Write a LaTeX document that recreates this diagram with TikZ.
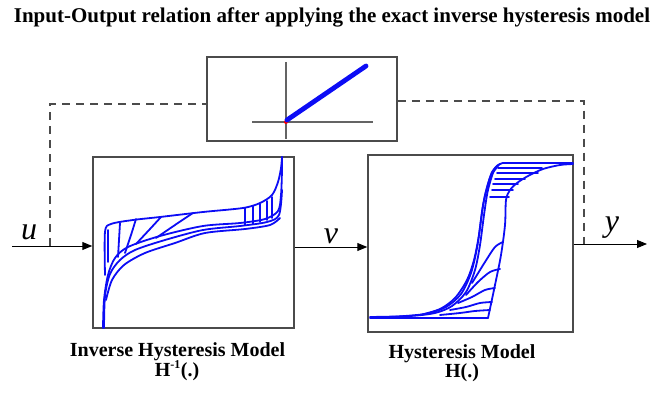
\documentclass[tikz,border=0pt]{standalone}
\usepackage{fontspec}
\setmainfont{Liberation Serif}
\usetikzlibrary{arrows.meta}

\definecolor{loopblue}{RGB}{12,12,245}
\definecolor{framegray}{RGB}{75,75,75}
\definecolor{axisgray}{RGB}{100,100,100}

\begin{document}
\begin{tikzpicture}[x=1pt,y=-1pt,
  blockbox/.style={draw=framegray, line width=1.5pt, inner sep=0pt},
  sig/.style={black, line width=1pt, -{Triangle[length=10pt,width=8pt]}},
  fbline/.style={framegray, line width=1.3pt, dash pattern=on 8pt off 6pt},
  hyst/.style={loopblue, line width=1.8pt, line join=round, line cap=round},
  caption/.style={font=\fontsize{20}{20}\selectfont\bfseries, anchor=base, inner sep=0pt},
  signame/.style={font=\fontsize{32}{32}\selectfont\itshape, inner sep=0pt}]
\useasboundingbox (0,0) rectangle (658,398);

\node[font=\fontsize{21}{21}\selectfont\bfseries, anchor=base, inner sep=0pt] (title) at (332,23)
  {Input-Output relation after applying the exact inverse hysteresis model};

% blocks
\node[blockbox, minimum width=190pt, minimum height=84pt] (fb) at (302,99) {};
\node[blockbox, minimum width=201pt, minimum height=171pt] (inv) at (193.5,242.5) {};
\node[blockbox, minimum width=205pt, minimum height=177pt] (hys) at (470.5,243.5) {};

% overall relation (top block)
\draw[axisgray, line width=2.2pt] (252,122) -- (373,122);
\draw[axisgray, line width=2.2pt] (286,62) -- (286,139);
\fill[red] (286,122) circle (2pt);
\draw[loopblue, line width=4.8pt, line cap=round] (287,120) -- (366,66);

% inverse hysteresis loops
\draw[hyst] plot[smooth] coordinates {(105,275) (105,232) (111,224) (133,220) (160,217) (203,212) (243,208) (260,203) (272,195) (278,182) (281,168) (282,157)};
\draw[hyst] (108,262) -- (108,230);
\draw[hyst] plot[smooth] coordinates {(103,328) (104,300) (108,275) (115,258) (128,247) (160,236) (203,226) (240,223) (265,219) (278,211) (281,195) (282,170) (282,157)};
\draw[hyst] plot[smooth] coordinates {(104,328) (105,296) (110,274) (120,260) (135,250) (165,240) (203,230) (240,226) (267,222) (279,215) (282,190)};
\draw[hyst] plot[smooth] coordinates {(106,300) (112,280) (124,265) (145,253) (175,243) (205,233) (245,229) (270,225) (280,218)};
\draw[hyst] (120,223) -- (118,257);
\draw[hyst] plot[smooth] coordinates {(136,219) (131,235) (125,253)};
\draw[hyst] plot[smooth] coordinates {(161,217) (150,229) (136,244)};
\draw[hyst] plot[smooth] coordinates {(193,213) (175,225) (156,238)};
\foreach \xa/\ylo/\yhi in {245/225/208, 253/224/206, 260/222/204, 267/220/201, 272/218/197}
  \draw[hyst] (\xa,\ylo) -- (\xa,\yhi);

% hysteresis loops
\draw[hyst] (370,318) -- (488,318);
\draw[hyst] plot[smooth] coordinates {(488,318) (495,285) (501,255) (505,225) (506,200) (510,190) (517,183) (528,176) (543,169) (560,165) (573,164)};
\draw[hyst] (503,163) -- (573,163);
\draw[hyst] plot[smooth] coordinates {(503,163) (495,168) (488,190) (484,215) (480,245) (475,270) (466,292) (452,306) (435,313) (410,316) (370,317)};
\draw[hyst] plot[smooth] coordinates {(500,164) (492,172) (485,195) (481,220) (477,248) (471,273) (461,294) (446,307) (425,314) (390,317)};
\draw[hyst] plot[smooth] coordinates {(498,166) (490,178) (483,205) (479,235) (474,260) (467,280) (455,298) (440,309) (420,315)};
\foreach \yh/\xl/\xr in {168/498/542, 173/497/538, 179/495/525, 184/493/518, 190/492/513, 197/490/509}
  \draw[hyst] (\xl,\yh) -- (\xr,\yh);
\draw[hyst] plot[smooth] coordinates {(503,242) (495,247) (485,262) (472,283)};
\draw[hyst] plot[smooth] coordinates {(500,269) (490,272) (478,282) (466,295)};
\draw[hyst] plot[smooth] coordinates {(495,288) (485,290) (472,297) (458,303)};
\draw[hyst] plot[smooth] coordinates {(492,302) (480,303) (466,307) (450,310)};
\draw[hyst] plot[smooth] coordinates {(490,310) (475,311) (460,313) (440,315)};

% signals
\coordinate (uin) at (12,246);
\coordinate (vmid) at (330,247);
\coordinate (yout) at (647,244);
\draw[sig] (uin) -- (uin -| inv.west);
\draw[sig] (vmid -| inv.east) -- (vmid -| hys.west);
\draw[sig] (yout -| hys.east) -- (yout);

% feedforward path through the top block
\coordinate (tapl) at (50,246);
\coordinate (tapr) at (584,244);
\draw[fbline] (tapl) |- ([yshift=-5pt]fb.west);
\draw[fbline] ([yshift=-2pt]fb.east) -| (tapr);

\node[signame] (ulab) at (29,232) {u};
\node[signame] (vlab) at (331,236) {v};
\node[signame] (ylab) at (612,228) {y};

\node[caption] (invname) at (177.5,356) {Inverse Hysteresis Model};
\node[caption] (invsym) at (177,376) {H\textsuperscript{\fontsize{12}{12}\selectfont -1}(.)};
\node[caption] (hysname) at (462,358) {Hysteresis Model};
\node[caption] (hyssym) at (462,377) {H(.)};
\end{tikzpicture}
\end{document}
